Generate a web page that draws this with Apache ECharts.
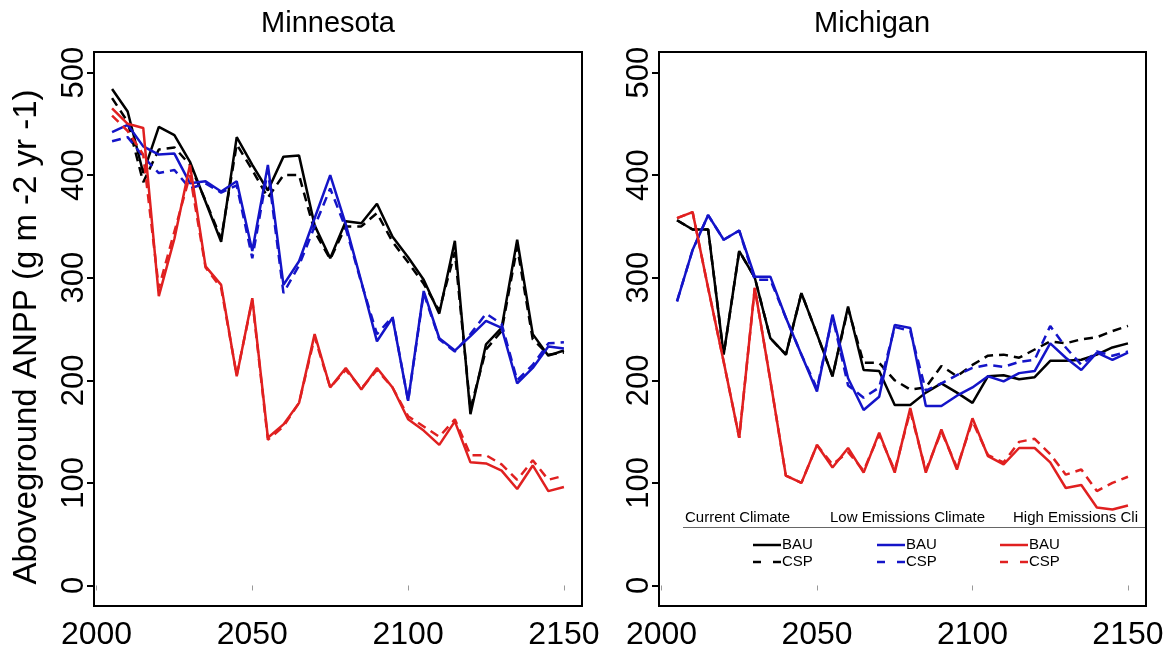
<!DOCTYPE html>
<html>
<head>
<meta charset="utf-8">
<script src="https://cdn.jsdelivr.net/npm/echarts@6/dist/echarts.min.js"></script>
<style>
  html, body { margin: 0; padding: 0; background: #fff; }
  #chart { width: 1169px; height: 653px; }
</style>
</head>
<body>
<div id="chart"></div>
<script>
// Simulation years (5-year steps)
const years = [2005, 2010, 2015, 2020, 2025, 2030, 2035, 2040, 2045, 2050,
               2055, 2060, 2065, 2070, 2075, 2080, 2085, 2090, 2095, 2100,
               2105, 2110, 2115, 2120, 2125, 2130, 2135, 2140, 2145, 2150];

// Axis tick values
const xTicks = [2000, 2050, 2100, 2150];
const yTicks = [0, 100, 200, 300, 400, 500];

// Minnesota — aboveground ANPP (g m-2 yr-1)
const mnCurrentBAU = [484, 462, 402, 447, 439, 413, 374, 335, 437, 410, 385, 418, 419, 351, 319, 355, 353, 372, 340, 320, 298, 265, 336, 167, 235, 251, 337, 245, 224, 229];
const mnCurrentCSP = [475, 452, 393, 425, 427, 410, 375, 338, 430, 405, 378, 400, 400, 345, 318, 350, 350, 363, 335, 315, 294, 268, 325, 172, 230, 248, 330, 240, 225, 227];
const mnLowBAU     = [442, 449, 428, 420, 421, 392, 394, 384, 394, 326, 410, 293, 316, 358, 400, 352, 296, 238, 261, 180, 287, 241, 229, 243, 258, 251, 197, 212, 233, 231];
const mnLowCSP     = [433, 437, 418, 402, 405, 387, 392, 383, 390, 319, 405, 285, 312, 350, 387, 348, 295, 245, 262, 180, 285, 240, 228, 245, 265, 255, 200, 215, 236, 237];
const mnHighBAU    = [465, 450, 446, 282, 338, 410, 311, 293, 204, 280, 144, 157, 178, 245, 193, 212, 191, 212, 193, 162, 151, 137, 160, 120, 119, 112, 94, 117, 92, 96];
const mnHighCSP    = [458, 443, 420, 290, 345, 400, 310, 290, 205, 278, 142, 155, 178, 242, 193, 210, 192, 210, 193, 165, 155, 145, 162, 127, 127, 118, 103, 122, 103, 107];

// Michigan — aboveground ANPP (g m-2 yr-1)
const miCurrentBAU = [356, 347, 347, 225, 326, 300, 241, 225, 285, 245, 204, 272, 210, 209, 176, 176, 188, 197, 188, 178, 204, 205, 201, 203, 219, 219, 220, 225, 232, 236];
const miCurrentCSP = [356, 347, 347, 225, 326, 300, 241, 225, 285, 245, 204, 270, 217, 217, 200, 191, 193, 214, 204, 215, 224, 225, 222, 230, 238, 236, 240, 242, 248, 253];
const miLowBAU     = [277, 327, 361, 337, 346, 301, 301, 261, 225, 189, 264, 202, 171, 184, 254, 251, 175, 175, 185, 193, 204, 199, 207, 209, 236, 222, 210, 227, 220, 227];
const miLowCSP     = [277, 327, 361, 337, 346, 298, 298, 261, 225, 192, 262, 195, 183, 193, 252, 248, 190, 197, 205, 212, 215, 213, 218, 220, 253, 232, 215, 228, 224, 228];
const miHighBAU    = [358, 364, 290, 218, 144, 290, 200, 107, 100, 137, 115, 134, 110, 149, 110, 173, 110, 152, 113, 163, 126, 118, 134, 134, 120, 95, 98, 76, 74, 78];
const miHighCSP    = [358, 364, 290, 218, 144, 290, 200, 107, 100, 137, 118, 130, 112, 147, 112, 170, 112, 150, 115, 160, 127, 120, 140, 143, 128, 108, 113, 92, 100, 106];

const FONT = "'Liberation Sans', Arial, Helvetica, sans-serif";
const BLACK = '#000000', BLUE = '#1414c8', RED = '#e02020';
const DASH = [9, 6];

function pairs(vals) { return years.map((yr, i) => [yr, vals[i]]); }

function line(name, vals, color, dashed, idx) {
  return {
    name: name,
    type: 'line',
    xAxisIndex: idx,
    yAxisIndex: idx,
    data: pairs(vals),
    symbol: 'none',
    silent: true,
    lineStyle: { color: color, width: 2.5, type: dashed ? DASH : 'solid' },
    itemStyle: { color: color }
  };
}

function xAxisFor(idx) {
  return {
    type: 'value', gridIndex: idx, min: 1999.2, max: 2155.8,
    axisLine: { show: false },
    splitLine: { show: false },
    axisTick: { show: true, customValues: xTicks, length: 5, lineStyle: { color: '#999', width: 1 } },
    axisLabel: { customValues: xTicks, fontSize: 32, color: '#000', fontFamily: FONT, margin: 13,
                 formatter: v => String(v) }
  };
}

function yAxisFor(idx) {
  return {
    type: 'value', gridIndex: idx, min: -20, max: 520,
    axisLine: { show: false },
    splitLine: { show: false },
    axisTick: { show: true, customValues: yTicks, length: 7, lineStyle: { color: '#000', width: 2 } },
    axisLabel: { customValues: yTicks, rotate: 90, fontSize: 31, color: '#000', fontFamily: FONT, margin: 4,
                 formatter: v => String(v) }
  };
}

// Legend drawn inside the Michigan panel
const legendGroups = [
  { header: 'Current Climate', hx: 685, lx: 753, color: BLACK },
  { header: 'Low Emissions Climate', hx: 830, lx: 877, color: BLUE },
  { header: 'High Emissions Climate', hx: 1013, lx: 1000, color: RED }
];
const legendGraphics = [];
legendGroups.forEach(g => {
  legendGraphics.push({
    type: 'text', x: g.hx, y: 518, z: 10,
    style: { text: g.header, fontSize: 15, fontFamily: FONT, fill: '#000',
             verticalAlign: 'middle', textAlign: 'left',
             width: 1149 - g.hx, overflow: 'truncate', ellipsis: '' }
  });
  legendGraphics.push({
    type: 'line', z: 10,
    shape: { x1: g.lx, y1: 545, x2: g.lx + 28, y2: 545 },
    style: { stroke: g.color, lineWidth: 2.5 }
  });
  legendGraphics.push({
    type: 'line', z: 10,
    shape: { x1: g.lx, y1: 562, x2: g.lx + 8, y2: 562 },
    style: { stroke: g.color, lineWidth: 2.5 }
  });
  legendGraphics.push({
    type: 'line', z: 10,
    shape: { x1: g.lx + 20, y1: 562, x2: g.lx + 28, y2: 562 },
    style: { stroke: g.color, lineWidth: 2.5 }
  });
  legendGraphics.push({
    type: 'text', x: g.lx + 29, y: 545, z: 10,
    style: { text: 'BAU', fontSize: 15, fontFamily: FONT, fill: '#000', verticalAlign: 'middle' }
  });
  legendGraphics.push({
    type: 'text', x: g.lx + 29, y: 562, z: 10,
    style: { text: 'CSP', fontSize: 15, fontFamily: FONT, fill: '#000', verticalAlign: 'middle' }
  });
});
legendGraphics.push({
  type: 'line', z: 10,
  shape: { x1: 683, y1: 527.5, x2: 1145, y2: 527.5 },
  style: { stroke: '#666', lineWidth: 1 }
});

const chart = echarts.init(document.getElementById('chart'), null, { renderer: 'canvas' });
chart.setOption({
  animation: false,
  backgroundColor: '#ffffff',
  textStyle: { fontFamily: FONT },
  grid: [
    { left: 94, top: 52, width: 488, height: 554, show: true, borderColor: '#000', borderWidth: 2, backgroundColor: 'transparent' },
    { left: 659, top: 52, width: 487, height: 554, show: true, borderColor: '#000', borderWidth: 2, backgroundColor: 'transparent' }
  ],
  xAxis: [xAxisFor(0), xAxisFor(1)],
  yAxis: [yAxisFor(0), yAxisFor(1)],
  series: [
    line('Current Climate BAU', mnCurrentBAU, BLACK, false, 0),
    line('Current Climate CSP', mnCurrentCSP, BLACK, true, 0),
    line('Low Emissions Climate BAU', mnLowBAU, BLUE, false, 0),
    line('Low Emissions Climate CSP', mnLowCSP, BLUE, true, 0),
    line('High Emissions Climate BAU', mnHighBAU, RED, false, 0),
    line('High Emissions Climate CSP', mnHighCSP, RED, true, 0),
    line('Current Climate BAU', miCurrentBAU, BLACK, false, 1),
    line('Current Climate CSP', miCurrentCSP, BLACK, true, 1),
    line('Low Emissions Climate BAU', miLowBAU, BLUE, false, 1),
    line('Low Emissions Climate CSP', miLowCSP, BLUE, true, 1),
    line('High Emissions Climate BAU', miHighBAU, RED, false, 1),
    line('High Emissions Climate CSP', miHighCSP, RED, true, 1)
  ],
  graphic: [
    { type: 'text', x: 328, y: 24, style: { text: 'Minnesota', fontSize: 29, fontFamily: FONT, fill: '#000', textAlign: 'center', verticalAlign: 'middle' } },
    { type: 'text', x: 872, y: 24, style: { text: 'Michigan', fontSize: 29, fontFamily: FONT, fill: '#000', textAlign: 'center', verticalAlign: 'middle' } },
    { type: 'text', x: 27, y: 337, rotation: Math.PI / 2,
      style: { text: 'Aboveground ANPP (g m -2 yr -1)', fontSize: 33, fontFamily: FONT, fill: '#000', textAlign: 'center', verticalAlign: 'middle' } }
  ].concat(legendGraphics)
});
</script>
</body>
</html>
